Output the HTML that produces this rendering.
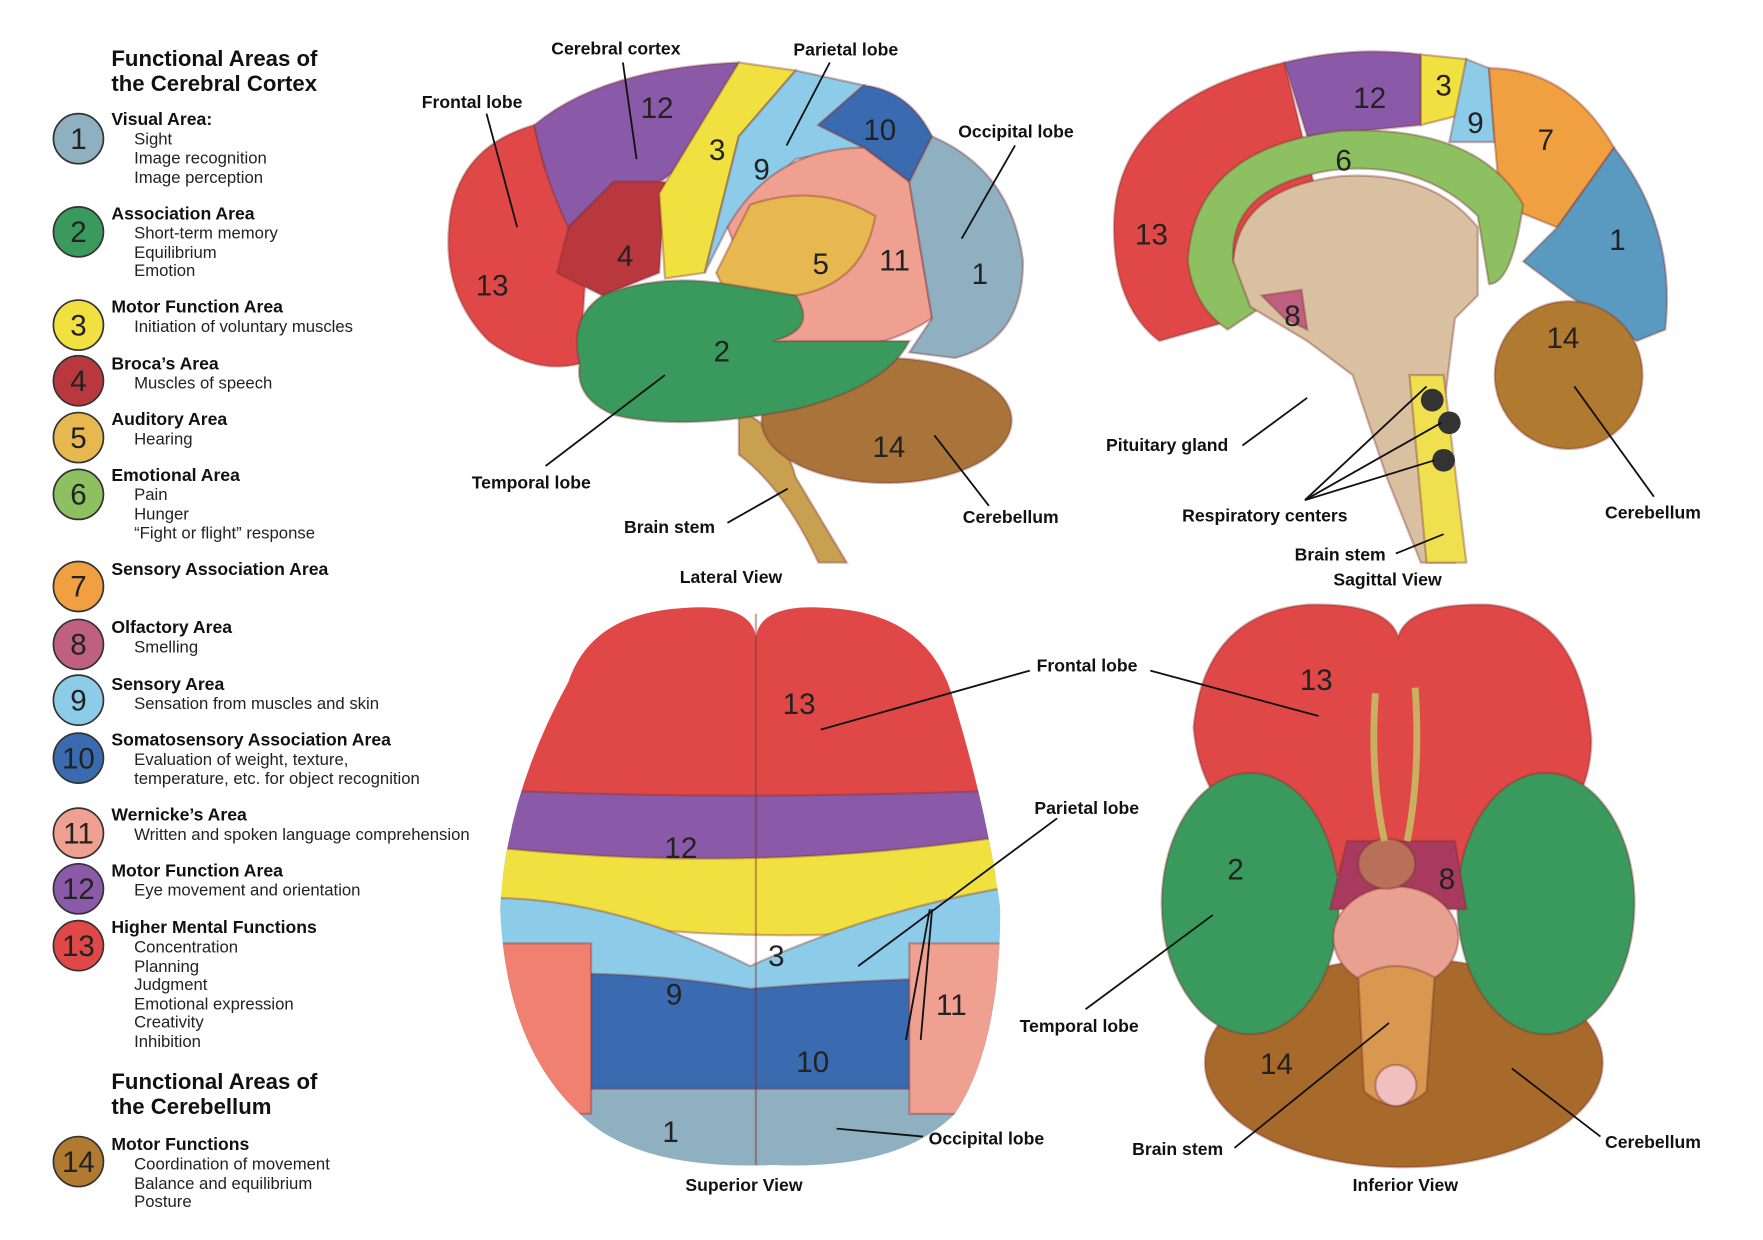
<!DOCTYPE html>
<html><head><meta charset="utf-8"><style>
html,body{margin:0;padding:0;background:#fff;}
svg{display:block}
text{font-family:"Liberation Sans",Arial,sans-serif;}
.h{font-weight:bold;font-size:19.5px;fill:#111}
.t{font-weight:bold;font-size:15.5px;fill:#111}
.s{font-size:14.7px;fill:#222}
.n{font-size:26px;fill:#222;text-anchor:middle}
.lb{font-weight:bold;font-size:15.5px;fill:#111}
.ln{stroke:#111;stroke-width:1.6;fill:none}
.b{stroke:#7a2a2a;stroke-opacity:.35;stroke-width:2;}
</style></head><body>
<svg width="1763" height="1240" viewBox="0 0 1551 1091" preserveAspectRatio="none" xmlns="http://www.w3.org/2000/svg">
<rect width="1551" height="1091" fill="#fff"/>
<!-- Legend -->
<text class="h" x="98" y="58">Functional Areas of</text>
<text class="h" x="98" y="80">the Cerebral Cortex</text>
<g stroke="#333" stroke-width="1.5">
<circle cx="69" cy="122" r="22" fill="#8fb0c0"/>
<circle cx="69" cy="204" r="22" fill="#3a9a5e"/>
<circle cx="69" cy="286" r="22" fill="#f0e040"/>
<circle cx="69" cy="335" r="22" fill="#b8383e"/>
<circle cx="69" cy="385" r="22" fill="#e8b850"/>
<circle cx="69" cy="435" r="22" fill="#8cc060"/>
<circle cx="69" cy="516" r="22" fill="#f0a040"/>
<circle cx="69" cy="567" r="22" fill="#c06080"/>
<circle cx="69" cy="616" r="22" fill="#8ccce8"/>
<circle cx="69" cy="667" r="22" fill="#3a6ab0"/>
<circle cx="69" cy="733" r="22" fill="#f0a090"/>
<circle cx="69" cy="782" r="22" fill="#8a5aa8"/>
<circle cx="69" cy="832" r="22" fill="#e04848"/>
<circle cx="69" cy="1022" r="22" fill="#b07a30"/>
</g>
<g class="n">
<text x="69" y="131">1</text><text x="69" y="213">2</text><text x="69" y="295">3</text><text x="69" y="344">4</text>
<text x="69" y="394">5</text><text x="69" y="444">6</text><text x="69" y="525">7</text><text x="69" y="576">8</text>
<text x="69" y="625">9</text><text x="69" y="676">10</text><text x="69" y="742">11</text><text x="69" y="791">12</text>
<text x="69" y="841">13</text><text x="69" y="1031">14</text>
</g>
<text class="t" x="98" y="110">Visual Area:</text>
<text class="s" x="118" y="127">Sight</text><text class="s" x="118" y="144">Image recognition</text><text class="s" x="118" y="161">Image perception</text>
<text class="t" x="98" y="193">Association Area</text>
<text class="s" x="118" y="210">Short-term memory</text><text class="s" x="118" y="227">Equilibrium</text><text class="s" x="118" y="243">Emotion</text>
<text class="t" x="98" y="275">Motor Function Area</text>
<text class="s" x="118" y="292">Initiation of voluntary muscles</text>
<text class="t" x="98" y="325">Broca’s Area</text>
<text class="s" x="118" y="342">Muscles of speech</text>
<text class="t" x="98" y="374">Auditory Area</text>
<text class="s" x="118" y="391">Hearing</text>
<text class="t" x="98" y="423">Emotional Area</text>
<text class="s" x="118" y="440">Pain</text><text class="s" x="118" y="457">Hunger</text><text class="s" x="118" y="474">“Fight or flight” response</text>
<text class="t" x="98" y="506">Sensory Association Area</text>
<text class="t" x="98" y="557">Olfactory Area</text>
<text class="s" x="118" y="574">Smelling</text>
<text class="t" x="98" y="607">Sensory Area</text>
<text class="s" x="118" y="624">Sensation from muscles and skin</text>
<text class="t" x="98" y="656">Somatosensory Association Area</text>
<text class="s" x="118" y="673">Evaluation of weight, texture,</text><text class="s" x="118" y="690">temperature, etc. for object recognition</text>
<text class="t" x="98" y="722">Wernicke’s Area</text>
<text class="s" x="118" y="739">Written and spoken language comprehension</text>
<text class="t" x="98" y="771">Motor Function Area</text>
<text class="s" x="118" y="788">Eye movement and orientation</text>
<text class="t" x="98" y="821">Higher Mental Functions</text>
<text class="s" x="118" y="838">Concentration</text><text class="s" x="118" y="855">Planning</text><text class="s" x="118" y="871">Judgment</text>
<text class="s" x="118" y="888">Emotional expression</text><text class="s" x="118" y="904">Creativity</text><text class="s" x="118" y="921">Inhibition</text>
<text class="h" x="98" y="958">Functional Areas of</text>
<text class="h" x="98" y="980">the Cerebellum</text>
<text class="t" x="98" y="1012">Motor Functions</text>
<text class="s" x="118" y="1029">Coordination of movement</text><text class="s" x="118" y="1046">Balance and equilibrium</text><text class="s" x="118" y="1062">Posture</text>

<!-- Lateral view -->
<g class="b">
<path d="M650 360 Q690 380 700 420 L745 495 L720 495 Q690 430 650 400 Z" fill="#c8a050"/>
<ellipse cx="780" cy="370" rx="110" ry="55" fill="#a8743a"/>
<path d="M395 200 Q400 130 470 110 L480 150 L520 170 L510 320 Q470 330 430 300 Q390 260 395 200Z" fill="#e04848"/>
<path d="M470 110 Q530 60 650 55 L630 100 Q600 150 580 160 L540 160 L500 200 Q480 160 470 110Z" fill="#8a5aa8"/>
<path d="M500 200 L540 160 L585 160 L580 240 L530 260 L490 240Z" fill="#b8383e"/>
<path d="M650 55 L700 62 L650 120 L620 240 L585 245 L580 170 Q610 120 650 55Z" fill="#f0e040"/>
<path d="M700 62 L760 75 L720 110 L760 130 L700 140 L640 200 L620 240 L650 120Z" fill="#8ccce8"/>
<path d="M720 110 L760 75 Q800 80 820 120 L800 160 L760 130Z" fill="#3a6ab0"/>
<path d="M640 200 Q680 130 760 130 L800 160 L820 280 Q760 320 680 300 L660 250Z" fill="#f0a090"/>
<path d="M630 240 L660 180 Q720 160 770 190 Q760 250 700 260 L640 260Z" fill="#e8b850"/>
<path d="M820 120 Q890 150 900 230 Q900 300 840 315 L800 310 L820 280 L800 160Z" fill="#8fb0c0"/>
<path d="M510 320 Q500 280 530 260 Q580 240 640 250 L700 260 Q720 290 680 300 L800 300 Q780 340 700 360 Q600 380 540 365 Q505 350 510 320Z" fill="#3a9a5e"/>
</g>
<g class="n"><text x="578" y="104">12</text><text x="631" y="141">3</text><text x="670" y="158">9</text><text x="774" y="123">10</text><text x="550" y="234">4</text><text x="722" y="241">5</text><text x="787" y="238">11</text><text x="862" y="250">1</text><text x="433" y="260">13</text><text x="635" y="318">2</text><text x="782" y="402">14</text></g>
<g class="ln"><path d="M548 55 L560 140"/><path d="M730 55 L692 128"/><path d="M428 100 L455 200"/><path d="M893 128 L846 210"/><path d="M480 410 L585 330"/><path d="M640 460 L693 430"/><path d="M870 445 L822 383"/></g>
<text class="lb" x="485" y="48">Cerebral cortex</text><text class="lb" x="698" y="49">Parietal lobe</text>
<text class="lb" x="371" y="95">Frontal lobe</text><text class="lb" x="843" y="121">Occipital lobe</text>
<text class="lb" x="415" y="430">Temporal lobe</text><text class="lb" x="549" y="469">Brain stem</text>
<text class="lb" x="847" y="460">Cerebellum</text><text class="lb" x="598" y="513">Lateral View</text>

<!-- Sagittal -->
<g class="b">
<path d="M980 200 Q980 90 1130 55 L1170 220 Q1080 230 1090 280 L1020 300 Q980 270 980 200Z" fill="#e04848"/>
<path d="M1130 55 Q1190 40 1250 48 L1250 110 L1150 120Z" fill="#8a5aa8"/>
<path d="M1250 48 L1290 52 L1290 100 L1250 110Z" fill="#f0e040"/>
<path d="M1290 52 L1310 60 L1315 125 L1275 125Z" fill="#8ccce8"/>
<path d="M1310 60 Q1380 60 1420 130 L1370 200 L1320 180 L1315 125Z" fill="#f0a040"/>
<path d="M1420 130 Q1475 200 1465 290 L1440 300 L1380 260 L1340 230 L1370 200Z" fill="#5a9ac0"/>
<path d="M1045 230 Q1050 130 1180 115 Q1300 110 1340 180 Q1330 250 1310 250 L1300 190 Q1250 140 1170 150 Q1080 165 1085 230 L1110 270 L1080 290 Q1050 270 1045 230Z" fill="#8cc060"/>
<path d="M1085 230 Q1090 165 1180 155 Q1260 150 1300 200 L1300 260 L1280 280 L1260 440 L1280 495 L1250 495 L1220 420 L1190 330 L1150 300 L1100 270Z" fill="#d8c0a0"/>
<path d="M1110 260 L1145 255 L1150 290 L1130 280Z" fill="#c06080"/>
<path d="M1240 330 L1270 330 L1290 495 L1255 495Z" fill="#f0e050"/>
<circle cx="1380" cy="330" r="65" fill="#b07a30"/>
</g>
<circle cx="1260" cy="352" r="10" fill="#333"/><circle cx="1275" cy="372" r="10" fill="#333"/><circle cx="1270" cy="405" r="10" fill="#333"/>
<g class="n"><text x="1205" y="95">12</text><text x="1270" y="84">3</text><text x="1298" y="117">9</text><text x="1360" y="132">7</text><text x="1182" y="150">6</text><text x="1013" y="215">13</text><text x="1423" y="220">1</text><text x="1137" y="287">8</text><text x="1375" y="306">14</text></g>
<g class="ln"><path d="M1093 392 L1150 350"/><path d="M1148 440 L1255 340"/><path d="M1148 440 L1268 372"/><path d="M1148 440 L1262 405"/><path d="M1228 487 L1270 470"/><path d="M1455 437 L1385 340"/></g>
<text class="lb" x="973" y="397">Pituitary gland</text><text class="lb" x="1040" y="459">Respiratory centers</text>
<text class="lb" x="1139" y="493">Brain stem</text><text class="lb" x="1173" y="515">Sagittal View</text><text class="lb" x="1412" y="456">Cerebellum</text>

<!-- Superior -->
<defs><clipPath id="sup"><path d="M500 600 Q520 540 600 535 Q660 530 665 560 Q670 530 730 535 Q820 540 840 620 Q870 720 880 800 Q880 920 840 980 Q790 1030 680 1025 Q560 1030 510 980 Q445 920 440 800 Q445 700 500 600Z"/></clipPath></defs>
<g clip-path="url(#sup)" class="b">
<rect x="430" y="520" width="460" height="200" fill="#e04848"/>
<path d="M430 695 Q650 705 890 695 L890 770 L430 770Z" fill="#8a5aa8"/>
<path d="M430 745 Q660 770 890 735 L890 810 Q660 840 430 800Z" fill="#f0e040"/>
<path d="M430 790 Q540 790 660 850 Q770 800 890 780 L890 880 L430 880Z" fill="#8ccce8"/>
<path d="M430 860 Q540 850 660 870 Q780 860 890 860 L890 970 L430 970Z" fill="#3a6ab0"/>
<rect x="430" y="958" width="460" height="80" fill="#8fb0c0"/>
<path d="M430 830 L520 830 L520 980 L430 980Z" fill="#f08070"/>
<path d="M800 830 L890 830 L890 980 L800 980Z" fill="#f0a090"/>
</g>
<line x1="665" y1="540" x2="665" y2="1025" stroke="#7a2a2a" stroke-opacity=".4" stroke-width="2"/>
<g class="n"><text x="703" y="628">13</text><text x="599" y="755">12</text><text x="683" y="850">3</text><text x="593" y="884">9</text><text x="837" y="893">11</text><text x="715" y="943">10</text><text x="590" y="1005">1</text></g>
<g class="ln"><path d="M906 590 L722 642"/><path d="M930 720 L755 850"/><path d="M818 800 L797 915"/><path d="M820 800 L810 915"/><path d="M812 1000 L736 993"/></g>
<text class="lb" x="912" y="591">Frontal lobe</text><text class="lb" x="910" y="716">Parietal lobe</text>
<text class="lb" x="817" y="1007">Occipital lobe</text><text class="lb" x="603" y="1048">Superior View</text>

<!-- Inferior -->
<g class="b">
<path d="M1050 640 Q1060 540 1150 532 Q1220 530 1230 560 Q1240 530 1310 532 Q1390 540 1400 650 Q1400 760 1230 780 Q1060 760 1050 640Z" fill="#e04848"/>
<ellipse cx="1235" cy="935" rx="175" ry="92" fill="#a86a2a"/>
<ellipse cx="1100" cy="795" rx="78" ry="115" fill="#3a9a5e"/>
<ellipse cx="1360" cy="795" rx="78" ry="115" fill="#3a9a5e"/>
<path d="M1185 740 L1280 740 L1290 800 L1170 800Z" fill="#a83a60"/>
<ellipse cx="1228" cy="825" rx="55" ry="45" fill="#e8a090"/>
<path d="M1195 860 Q1228 840 1262 860 L1255 960 Q1228 985 1200 960Z" fill="#d89850"/>
<circle cx="1228" cy="955" r="18" fill="#f0c0c0"/>
<ellipse cx="1220" cy="760" rx="25" ry="22" fill="#b8705a"/>
</g>
<path d="M1210 610 Q1205 680 1218 740 M1245 605 Q1250 680 1238 740" stroke="#c8b060" stroke-width="6" fill="none"/>
<g class="n"><text x="1158" y="607">13</text><text x="1087" y="774">2</text><text x="1273" y="782">8</text><text x="1123" y="945">14</text></g>
<g class="ln"><path d="M1012 590 L1160 630"/><path d="M955 888 L1067 805"/><path d="M1086 1010 L1222 900"/><path d="M1408 1000 L1330 940"/></g>
<text class="lb" x="897" y="908">Temporal lobe</text><text class="lb" x="996" y="1016">Brain stem</text>
<text class="lb" x="1412" y="1010">Cerebellum</text><text class="lb" x="1190" y="1048">Inferior View</text>
</svg>
</body></html>
